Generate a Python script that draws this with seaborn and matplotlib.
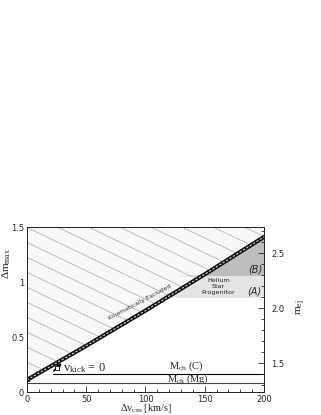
import numpy as np
import pandas as pd
import matplotlib
matplotlib.use("Agg")
import matplotlib.pyplot as plt
import seaborn as sns

# ─── data ──────────────────────────────────────────────────────────────────
dv_cm = [0, 25, 50, 75, 100, 125, 150, 175, 200]             # km/s
dm_max = [0.11, 0.265, 0.42, 0.58, 0.74, 0.905, 1.07, 1.24, 1.41]

m_ch_c = 0.164          # M_ch (C) level, in dm units
m_ch_mg = 0.079         # M_ch (Mg) level
region_a = (0.86, 1.057)   # helium star progenitor band (A)
m_offset = 1.24         # m_ej = dm + offset

x_ticks = [0, 50, 100, 150, 200]
y_ticks = [0, 0.5, 1, 1.5]
ej_ticks = [1.5, 2, 2.5]

df = pd.DataFrame({"dv": dv_cm, "dm": dm_max})

# ─── figure ────────────────────────────────────────────────────────────────
sns.set_style("ticks")
plt.rcParams["font.family"] = ["DejaVu Sans"]
plt.rcParams["mathtext.fontset"] = "dejavuserif"

fig = plt.figure(figsize=(3.21, 4.15), dpi=100)
ax = fig.add_axes([0.0841, 0.0554, 0.7383, 0.3976])
ax.set_xlim(0, 200)
ax.set_ylim(0, 1.5)

v = np.array(dv_cm, dtype=float)
d = np.array(dm_max, dtype=float)

# kinematically excluded region (above the curve)
excl = ax.fill_between(v, d, 1.5, color="#f8f8f8", lw=0, zorder=1)
clip = excl.get_paths()[0]
for c in np.arange(0.0, 2.6, 0.136):
    hl, = ax.plot([0, 200], [c, c - 0.00517 * 200], color="#b4b4b4", lw=0.6, zorder=2)
    hl.set_clip_path(clip, ax.transData)

# (B) and (A) shaded regions to the right of the curve
ax.fill_between(v, region_a[1], np.maximum(d, region_a[1]), color="#bdbdbd", lw=0, zorder=1)
ax.fill_between(v, region_a[0], np.clip(d, region_a[0], region_a[1]), color="#e4e4e4", lw=0, zorder=1)

# the boundary curve: dark band with light dashes
sns.lineplot(data=df, x="dv", y="dm", ax=ax, color="#111111", lw=3.0, zorder=5)
sns.lineplot(data=df, x="dv", y="dm", ax=ax, color="#d8d8d8", lw=0.8, zorder=6,
             linestyle=(0, (2.0, 1.6)))

# Chandrasekhar levels
ax.plot([22, 200], [m_ch_c, m_ch_c], color="black", lw=0.8, zorder=4)
ax.plot([0, 200], [m_ch_mg, m_ch_mg], color="#444444", lw=0.8, zorder=4)

# v_kick = 0 marker
ax.annotate("", xy=(31, 0.28), xytext=(21, 0.175),
            arrowprops=dict(arrowstyle="-|>", color="black", lw=1.3,
                            mutation_scale=5), zorder=7)
ax.plot([25.5], [0.218], marker="s", ms=2.6, mfc="white", mec="black", mew=0.6, zorder=8)

serif = ["Liberation Serif", "DejaVu Serif"]
ax.text(30.5, 0.215, r"$\mathregular{v_{kick}}$ = 0", family=serif, fontsize=9,
        ha="left", va="center", zorder=8)
ax.text(134, 0.236, r"$\mathregular{M_{ch}}$ (C)", family=serif, fontsize=7.5,
        ha="center", va="center")
ax.text(135.5, 0.118, r"$\mathregular{M_{ch}}$ (Mg)", family=serif, fontsize=7.5,
        ha="center", va="center")

ax.text(95, 0.815, "Kinematically Excluded", fontsize=4.3, color="#333333",
        rotation=28, ha="center", va="center", zorder=4)
ax.text(161.5, 0.962, "Helium\nStar\nProgenitor", fontsize=4.6, color="#222222",
        ha="center", va="center", linespacing=1.25, zorder=4)
ax.text(192.5, 1.11, "(B)", fontsize=7, style="italic", ha="center", va="center")
ax.text(192, 0.912, "(A)", fontsize=7, style="italic", ha="center", va="center")

# axes, ticks, labels
ax.set_xticks(x_ticks)
ax.set_yticks(y_ticks)
ax.set_yticklabels(["0", "0.5", "1", "1.5"])
ax.set_xticks(np.arange(0, 201, 10), minor=True)
ax.set_yticks(np.arange(0, 1.51, 0.1), minor=True)
ax.tick_params(which="both", direction="in", top=True, labelsize=6, pad=2, width=0.6)
ax.tick_params(which="major", length=4)
ax.tick_params(which="minor", length=2)
for s in ax.spines.values():
    s.set_linewidth(0.7)

ax.set_xlabel(r"$\mathregular{\Delta v_{cm}}$ [km/s]", family=serif, fontsize=7.5, labelpad=-1)
ax.set_ylabel(r"$\mathregular{\Delta m_{max}}$", family=serif, fontsize=8, labelpad=2)
ax.yaxis.set_label_coords(-0.06, 0.78)

ax2 = ax.twinx()
ax2.set_ylim(m_offset, m_offset + 1.5)
ax2.set_yticks(ej_ticks)
ax2.set_yticks(np.arange(1.3, 2.75, 0.1), minor=True)
ax2.tick_params(which="both", direction="in", labelsize=6, pad=5, width=0.6)
ax2.tick_params(which="major", length=4)
ax2.tick_params(which="minor", length=2)
ax2.set_ylabel(r"$\mathregular{m_{ej}}$", family=serif, fontsize=8)
ax2.yaxis.set_label_coords(1.13, 0.515)
for s in ax2.spines.values():
    s.set_linewidth(0.7)

fig.savefig("out.png", dpi=100)
